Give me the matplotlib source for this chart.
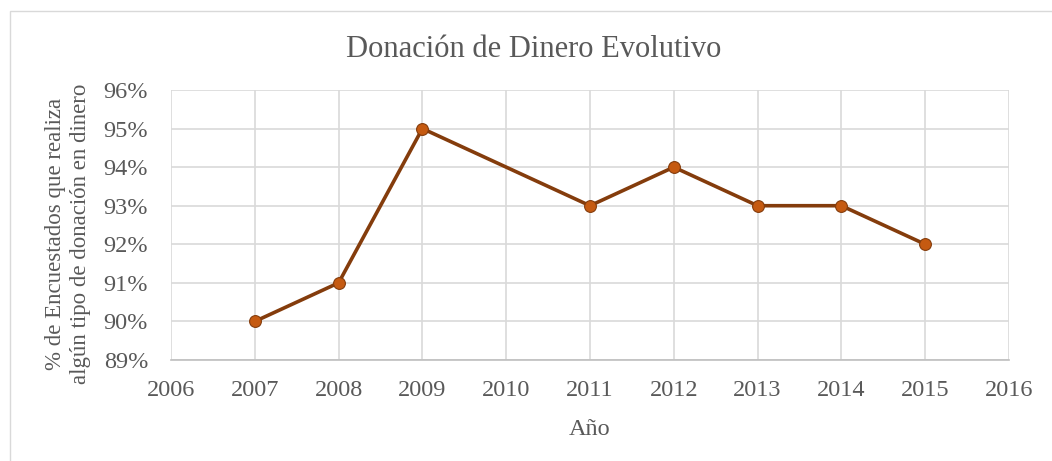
import matplotlib.pyplot as plt
from matplotlib.patches import Rectangle
from matplotlib.ticker import FuncFormatter

# Data (2010 has no point)
years = [2007, 2008, 2009, 2011, 2012, 2013, 2014, 2015]
pct = [90, 91, 95, 93, 94, 93, 93, 92]

x_ticks = list(range(2006, 2017))
y_ticks = list(range(89, 97))

plt.rcParams['font.family'] = ['Liberation Serif', 'DejaVu Serif']
grey = '#595959'

W, H = 1052, 461
fig = plt.figure(figsize=(W / 100, H / 100), dpi=100)
ax = fig.add_axes([171 / W, 1 - 360 / H, (1009 - 171) / W, (360 - 90) / H])

# outer chart border
fig.patches.append(Rectangle((10 / W, -0.05), 1.1, 1 - 11 / H + 0.05,
                             transform=fig.transFigure, fill=False,
                             edgecolor='#D9D9D9', linewidth=1))

ax.plot(years, pct, color='#843C0C', linewidth=2.6, marker='o',
        markersize=8.5, markerfacecolor='#C55A11', markeredgecolor='#843C0C',
        markeredgewidth=0.8, zorder=3)

ax.set_xlim(2006, 2016)
ax.set_ylim(89, 96)
ax.set_xticks(x_ticks)
ax.set_yticks(y_ticks)
ax.yaxis.set_major_formatter(FuncFormatter(lambda v, p: f"{v:.0f}%"))
ax.grid(True, color='#D9D9D9', linewidth=1.2)
ax.set_axisbelow(True)
for s in ['top', 'right', 'left']:
    ax.spines[s].set_visible(False)
ax.spines['bottom'].set_color('#BFBFBF')
ax.spines['bottom'].set_linewidth(1.2)
ax.tick_params(length=0, labelsize=17.5, labelcolor=grey)
ax.tick_params(axis='x', pad=14.5)
ax.tick_params(axis='y', pad=16.5)

fig.text(534 / W, 1 - 57 / H, 'Donación de Dinero Evolutivo', fontsize=22,
         color=grey, ha='center', va='baseline')
fig.text(590 / W, 1 - 435 / H, 'Año', fontsize=17.5, color=grey,
         ha='center', va='baseline')
fig.text(68 / W, 1 - 234 / H,
         '% de Encuestados que realiza\nalgún tipo de donación en dinero',
         fontsize=16.5, color=grey, rotation=90, ha='center', va='center',
         linespacing=1.3, multialignment='center')

fig.savefig('out.png', dpi=100)
